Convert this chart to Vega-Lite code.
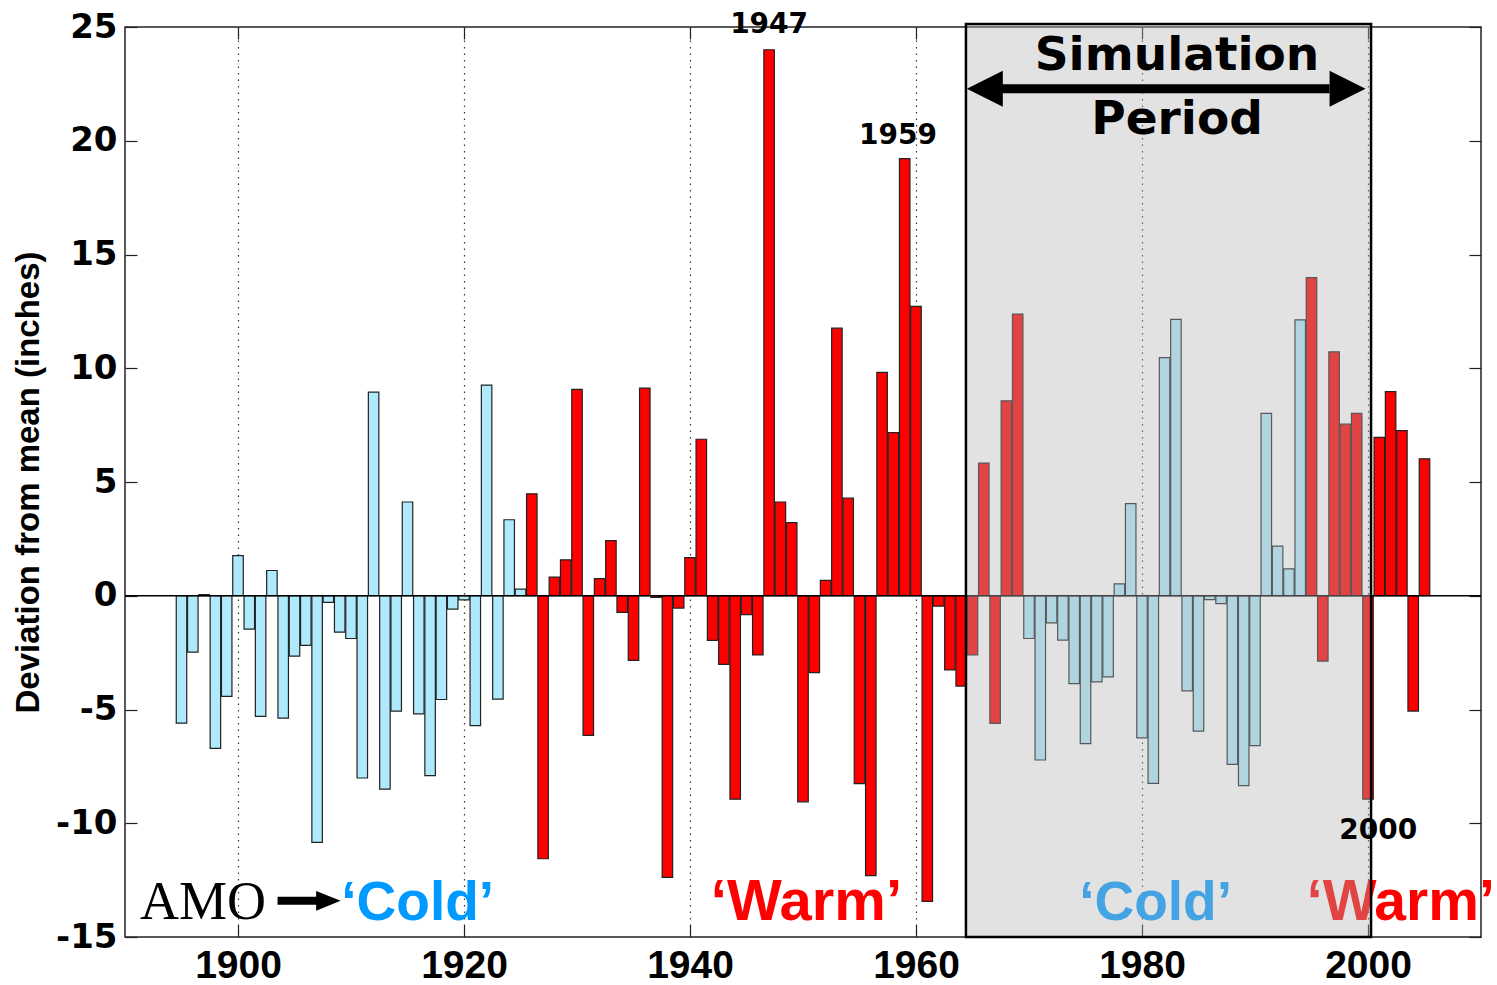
{
  "$schema": "https://vega.github.io/schema/vega-lite/v6.json",
  "width": 1356,
  "height": 910,
  "autosize": "none",
  "padding": {"left": 125, "top": 27, "right": 16, "bottom": 48},
  "background": "white",
  "config": {
    "view": {"stroke": "#222", "strokeWidth": 1.5},
    "axis": {"domain": false, "tickColor": "#222", "tickWidth": 1.2}
  },
  "datasets": {
    "bars": [
      {"year": 1895, "value": -5.6, "phase": "cold"},
      {"year": 1896, "value": -2.48, "phase": "cold"},
      {"year": 1897, "value": 0.05, "phase": "cold"},
      {"year": 1898, "value": -6.71, "phase": "cold"},
      {"year": 1899, "value": -4.42, "phase": "cold"},
      {"year": 1900, "value": 1.76, "phase": "cold"},
      {"year": 1901, "value": -1.47, "phase": "cold"},
      {"year": 1902, "value": -5.3, "phase": "cold"},
      {"year": 1903, "value": 1.11, "phase": "cold"},
      {"year": 1904, "value": -5.38, "phase": "cold"},
      {"year": 1905, "value": -2.65, "phase": "cold"},
      {"year": 1906, "value": -2.18, "phase": "cold"},
      {"year": 1907, "value": -10.84, "phase": "cold"},
      {"year": 1908, "value": -0.29, "phase": "cold"},
      {"year": 1909, "value": -1.6, "phase": "cold"},
      {"year": 1910, "value": -1.88, "phase": "cold"},
      {"year": 1911, "value": -8.01, "phase": "cold"},
      {"year": 1912, "value": 8.95, "phase": "cold"},
      {"year": 1913, "value": -8.5, "phase": "cold"},
      {"year": 1914, "value": -5.07, "phase": "cold"},
      {"year": 1915, "value": 4.12, "phase": "cold"},
      {"year": 1916, "value": -5.19, "phase": "cold"},
      {"year": 1917, "value": -7.91, "phase": "cold"},
      {"year": 1918, "value": -4.56, "phase": "cold"},
      {"year": 1919, "value": -0.59, "phase": "cold"},
      {"year": 1920, "value": -0.18, "phase": "cold"},
      {"year": 1921, "value": -5.71, "phase": "cold"},
      {"year": 1922, "value": 9.26, "phase": "cold"},
      {"year": 1923, "value": -4.54, "phase": "cold"},
      {"year": 1924, "value": 3.34, "phase": "cold"},
      {"year": 1925, "value": 0.29, "phase": "cold"},
      {"year": 1926, "value": 4.48, "phase": "warm"},
      {"year": 1927, "value": -11.56, "phase": "warm"},
      {"year": 1928, "value": 0.82, "phase": "warm"},
      {"year": 1929, "value": 1.58, "phase": "warm"},
      {"year": 1930, "value": 9.07, "phase": "warm"},
      {"year": 1931, "value": -6.14, "phase": "warm"},
      {"year": 1932, "value": 0.75, "phase": "warm"},
      {"year": 1933, "value": 2.42, "phase": "warm"},
      {"year": 1934, "value": -0.73, "phase": "warm"},
      {"year": 1935, "value": -2.84, "phase": "warm"},
      {"year": 1936, "value": 9.13, "phase": "warm"},
      {"year": 1937, "value": -0.07, "phase": "warm"},
      {"year": 1938, "value": -12.38, "phase": "warm"},
      {"year": 1939, "value": -0.54, "phase": "warm"},
      {"year": 1940, "value": 1.68, "phase": "warm"},
      {"year": 1941, "value": 6.88, "phase": "warm"},
      {"year": 1942, "value": -1.96, "phase": "warm"},
      {"year": 1943, "value": -3.02, "phase": "warm"},
      {"year": 1944, "value": -8.94, "phase": "warm"},
      {"year": 1945, "value": -0.83, "phase": "warm"},
      {"year": 1946, "value": -2.6, "phase": "warm"},
      {"year": 1947, "value": 24.0, "phase": "warm"},
      {"year": 1948, "value": 4.12, "phase": "warm"},
      {"year": 1949, "value": 3.21, "phase": "warm"},
      {"year": 1950, "value": -9.06, "phase": "warm"},
      {"year": 1951, "value": -3.38, "phase": "warm"},
      {"year": 1952, "value": 0.68, "phase": "warm"},
      {"year": 1953, "value": 11.76, "phase": "warm"},
      {"year": 1954, "value": 4.29, "phase": "warm"},
      {"year": 1955, "value": -8.26, "phase": "warm"},
      {"year": 1956, "value": -12.3, "phase": "warm"},
      {"year": 1957, "value": 9.82, "phase": "warm"},
      {"year": 1958, "value": 7.17, "phase": "warm"},
      {"year": 1959, "value": 19.21, "phase": "warm"},
      {"year": 1960, "value": 12.72, "phase": "warm"},
      {"year": 1961, "value": -13.43, "phase": "warm"},
      {"year": 1962, "value": -0.46, "phase": "warm"},
      {"year": 1963, "value": -3.26, "phase": "warm"},
      {"year": 1964, "value": -3.97, "phase": "warm"},
      {"year": 1965, "value": -2.6, "phase": "warm"},
      {"year": 1966, "value": 5.83, "phase": "warm"},
      {"year": 1967, "value": -5.61, "phase": "warm"},
      {"year": 1968, "value": 8.57, "phase": "warm"},
      {"year": 1969, "value": 12.38, "phase": "warm"},
      {"year": 1970, "value": -1.88, "phase": "cold"},
      {"year": 1971, "value": -7.22, "phase": "cold"},
      {"year": 1972, "value": -1.19, "phase": "cold"},
      {"year": 1973, "value": -1.95, "phase": "cold"},
      {"year": 1974, "value": -3.86, "phase": "cold"},
      {"year": 1975, "value": -6.5, "phase": "cold"},
      {"year": 1976, "value": -3.79, "phase": "cold"},
      {"year": 1977, "value": -3.57, "phase": "cold"},
      {"year": 1978, "value": 0.52, "phase": "cold"},
      {"year": 1979, "value": 4.05, "phase": "cold"},
      {"year": 1980, "value": -6.25, "phase": "cold"},
      {"year": 1981, "value": -8.25, "phase": "cold"},
      {"year": 1982, "value": 10.47, "phase": "cold"},
      {"year": 1983, "value": 12.15, "phase": "cold"},
      {"year": 1984, "value": -4.18, "phase": "cold"},
      {"year": 1985, "value": -5.95, "phase": "cold"},
      {"year": 1986, "value": -0.17, "phase": "cold"},
      {"year": 1987, "value": -0.35, "phase": "cold"},
      {"year": 1988, "value": -7.41, "phase": "cold"},
      {"year": 1989, "value": -8.35, "phase": "cold"},
      {"year": 1990, "value": -6.59, "phase": "cold"},
      {"year": 1991, "value": 8.02, "phase": "cold"},
      {"year": 1992, "value": 2.18, "phase": "cold"},
      {"year": 1993, "value": 1.18, "phase": "cold"},
      {"year": 1994, "value": 12.13, "phase": "cold"},
      {"year": 1995, "value": 13.98, "phase": "warm"},
      {"year": 1996, "value": -2.87, "phase": "warm"},
      {"year": 1997, "value": 10.72, "phase": "warm"},
      {"year": 1998, "value": 7.54, "phase": "warm"},
      {"year": 1999, "value": 8.02, "phase": "warm"},
      {"year": 2000, "value": -8.94, "phase": "warm"},
      {"year": 2001, "value": 6.96, "phase": "warm"},
      {"year": 2002, "value": 8.97, "phase": "warm"},
      {"year": 2003, "value": 7.26, "phase": "warm"},
      {"year": 2004, "value": -5.07, "phase": "warm"},
      {"year": 2005, "value": 6.02, "phase": "warm"}
    ],
    "phaseLabels": [
      {"x": 1915.9, "y": -14.24, "label": "‘Cold’", "kind": "cold", "size": 55},
      {"x": 1950.3, "y": -14.24, "label": "‘Warm’", "kind": "warm", "size": 58},
      {"x": 1981.2, "y": -14.24, "label": "‘Cold’", "kind": "cold", "size": 55},
      {"x": 2002.9, "y": -14.24, "label": "‘Warm’", "kind": "warm", "size": 57}
    ],
    "yearLabels": [
      {"x": 1947.0, "y": 24.75, "label": "1947"},
      {"x": 1958.4, "y": 19.87, "label": "1959"},
      {"x": 2000.9, "y": -10.68, "label": "2000"}
    ],
    "titleLabels": [
      {"x": 1983.1, "y": 23.12, "label": "Simulation"},
      {"x": 1983.1, "y": 20.31, "label": "Period"}
    ]
  },
  "layer": [
    {
      "data": {"name": "bars"},
      "mark": {"type": "bar", "width": 10.5, "stroke": "#222", "strokeWidth": 1.2},
      "encoding": {
        "x": {
          "field": "year", "type": "quantitative",
          "scale": {"domain": [1890, 2010], "nice": false, "zero": false, "padding": 0},
          "axis": {
            "orient": "bottom", "title": null, "values": [1900, 1920, 1940, 1960, 1980, 2000],
            "format": "d", "tickSize": -12, "labelPadding": 21,
            "labelFont": "Liberation Sans", "labelFontWeight": "bold", "labelFontSize": 39, "labelColor": "black",
            "grid": true, "gridDash": [1.5, 5], "gridColor": "#333", "gridWidth": 1.2
          }
        },
        "y": {
          "field": "value", "type": "quantitative",
          "scale": {"domain": [-15, 25], "nice": false, "zero": false, "padding": 0},
          "axis": {
            "orient": "left", "title": "Deviation from mean (inches)",
            "values": [-15, -10, -5, 0, 5, 10, 15, 20, 25],
            "labelExpr": "'' + datum.value",
            "tickSize": -12, "labelPadding": 20, "grid": false,
            "labelFont": "DejaVu Sans", "labelFontWeight": "bold", "labelFontSize": 34, "labelColor": "black",
            "titleFont": "Liberation Sans", "titleFontWeight": "bold", "titleFontSize": 33, "titleColor": "black",
            "titleX": -97, "titleY": 455, "titleBaseline": "middle", "titleAlign": "center", "titleAngle": -90
          }
        },
        "color": {
          "field": "phase", "type": "nominal",
          "scale": {"domain": ["cold", "warm"], "range": ["#aeeafc", "#ff0000"]},
          "legend": null
        }
      }
    },
    {
      "data": {"values": [{"v": 0}]},
      "mark": {"type": "rule", "color": "black", "strokeWidth": 1.5},
      "encoding": {"y": {"field": "v", "type": "quantitative", "axis": null}}
    },
    {
      "data": {"values": [{"x": 1896.9, "y": -14.2, "label": "AMO"}]},
      "mark": {"type": "text", "font": "Liberation Serif", "fontSize": 54, "color": "black", "align": "center", "baseline": "alphabetic"},
      "encoding": {
        "x": {"field": "x", "type": "quantitative", "axis": null},
        "y": {"field": "y", "type": "quantitative", "axis": null},
        "text": {"field": "label"}
      }
    },
    {
      "data": {"values": [{"x1": 1903.5, "x2": 1907.0, "y": -13.41}]},
      "mark": {"type": "rule", "color": "black", "strokeWidth": 8},
      "encoding": {
        "x": {"field": "x1", "type": "quantitative", "axis": null},
        "x2": {"field": "x2"},
        "y": {"field": "y", "type": "quantitative", "axis": null}
      }
    },
    {
      "data": {"values": [{"x": 1908.0, "y": -13.41}]},
      "mark": {"type": "point", "shape": "M -1 -0.8 L 1 0 L -1 0.8 Z", "size": 600, "filled": true, "color": "black", "opacity": 1},
      "encoding": {
        "x": {"field": "x", "type": "quantitative", "axis": null},
        "y": {"field": "y", "type": "quantitative", "axis": null}
      }
    },
    {
      "data": {"name": "phaseLabels"},
      "mark": {"type": "text", "font": "Liberation Sans", "fontWeight": "bold", "align": "center", "baseline": "alphabetic"},
      "encoding": {
        "x": {"field": "x", "type": "quantitative", "axis": null},
        "y": {"field": "y", "type": "quantitative", "axis": null},
        "text": {"field": "label"},
        "size": {"field": "size", "type": "quantitative", "scale": null, "legend": null},
        "color": {"condition": {"test": "datum.kind === 'warm'", "value": "#ff0000"}, "value": "#0099ff"}
      }
    },
    {
      "data": {"values": [{"x1": 1964.42, "x2": 2000.27, "y1": -15, "y2": 25.13}]},
      "mark": {"type": "rect", "fill": "#b2b2b2", "fillOpacity": 0.38, "stroke": "black", "strokeWidth": 2.5, "strokeOpacity": 1},
      "encoding": {
        "x": {"field": "x1", "type": "quantitative",
          "axis": {"orient": "top", "title": null, "labels": false, "values": [1900, 1920, 1940, 1960, 1980, 2000], "tickSize": -12, "grid": false}},
        "x2": {"field": "x2"},
        "y": {"field": "y1", "type": "quantitative",
          "axis": {"orient": "right", "title": null, "labels": false, "values": [-15, -10, -5, 0, 5, 10, 15, 20, 25], "tickSize": -12, "grid": false}},
        "y2": {"field": "y2"}
      }
    },
    {
      "data": {"name": "titleLabels"},
      "mark": {"type": "text", "font": "DejaVu Sans", "fontWeight": "bold", "fontSize": 47, "color": "black", "align": "center", "baseline": "alphabetic"},
      "encoding": {
        "x": {"field": "x", "type": "quantitative", "axis": null},
        "y": {"field": "y", "type": "quantitative", "axis": null},
        "text": {"field": "label"}
      }
    },
    {
      "data": {"name": "yearLabels"},
      "mark": {"type": "text", "font": "DejaVu Sans", "fontWeight": "bold", "fontSize": 28, "color": "black", "align": "center", "baseline": "alphabetic"},
      "encoding": {
        "x": {"field": "x", "type": "quantitative", "axis": null},
        "y": {"field": "y", "type": "quantitative", "axis": null},
        "text": {"field": "label"}
      }
    },
    {
      "data": {"values": [{"x1": 1967.6, "x2": 1996.6, "y": 22.29}]},
      "mark": {"type": "rule", "color": "black", "strokeWidth": 9},
      "encoding": {
        "x": {"field": "x1", "type": "quantitative", "axis": null},
        "x2": {"field": "x2"},
        "y": {"field": "y", "type": "quantitative", "axis": null}
      }
    },
    {
      "data": {"values": [{"x": 1966.09, "y": 22.29}]},
      "mark": {"type": "point", "shape": "M 1 -1 L -1 0 L 1 1 Z", "size": 1296, "filled": true, "color": "black", "opacity": 1},
      "encoding": {
        "x": {"field": "x", "type": "quantitative", "axis": null},
        "y": {"field": "y", "type": "quantitative", "axis": null}
      }
    },
    {
      "data": {"values": [{"x": 1998.19, "y": 22.29}]},
      "mark": {"type": "point", "shape": "M -1 -1 L 1 0 L -1 1 Z", "size": 1296, "filled": true, "color": "black", "opacity": 1},
      "encoding": {
        "x": {"field": "x", "type": "quantitative", "axis": null},
        "y": {"field": "y", "type": "quantitative", "axis": null}
      }
    }
  ],
  "resolve": {"axis": {"x": "independent", "y": "independent"}}
}
